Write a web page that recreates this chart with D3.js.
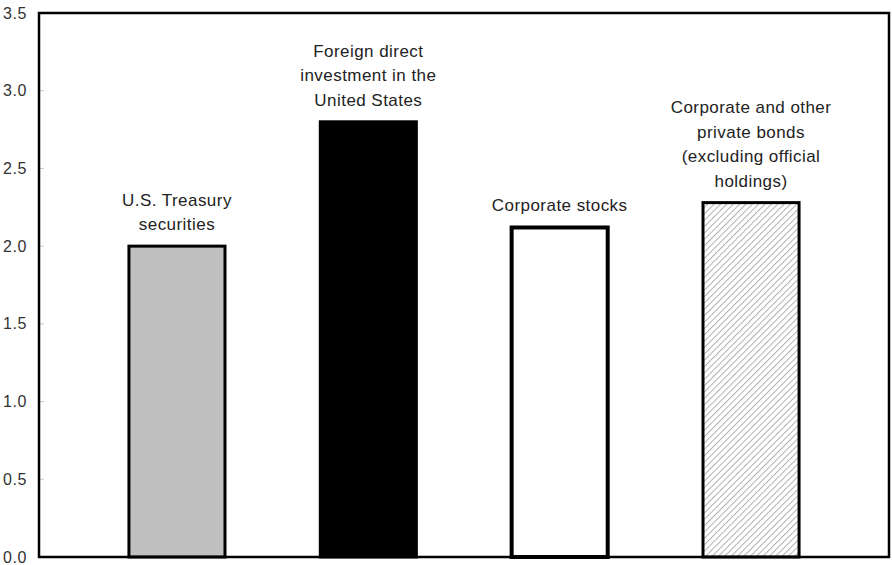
<!DOCTYPE html>
<html lang="en">
<meta charset="utf-8">
<style>
    html, body { margin: 0; padding: 0; background: #fff; }
    svg { display: block; }
    .lbl { font-family: "Liberation Sans", Arial, sans-serif; font-size: 17px; letter-spacing: 0.45px; fill: #222; }
    .tick text { font-family: "Liberation Sans", Arial, sans-serif; font-size: 16px; letter-spacing: 0.6px; fill: #333; }
</style>
<body>
<svg id="svg" width="892" height="565"></svg>
<script src="https://cdn.jsdelivr.net/npm/d3@7"></script>
<script>
    var categories = ["treasury", "fdi", "stocks", "bonds"];
    var labels = [
        ["U.S. Treasury", "securities"],
        ["Foreign direct", "investment in the", "United States"],
        ["Corporate stocks"],
        ["Corporate and other", "private bonds", "(excluding official", "holdings)"]
    ];
    var values = [2.0, 2.8, 2.12, 2.28];
    var yTicks = [0, 0.5, 1.0, 1.5, 2.0, 2.5, 3.0, 3.5];

    var svg = d3.select("svg"),
        margin = {top: 13, right: 3, bottom: 8, left: 39},
        width = 892 - margin.left - margin.right,
        height = 565 - margin.top - margin.bottom;

    // hatch for the last bar
    var defs = svg.append("defs");
    defs.append("pattern")
        .attr("id", "hatch")
        .attr("patternUnits", "userSpaceOnUse")
        .attr("width", 4.5).attr("height", 4.5)
        .attr("patternTransform", "rotate(45)")
      .call(p => {
          p.append("rect").attr("width", 4.5).attr("height", 4.5).attr("fill", "#fff");
          p.append("line").attr("x1", 0).attr("y1", 0).attr("x2", 0).attr("y2", 4.5)
              .attr("stroke", "#b0b0b0").attr("stroke-width", 2);
      });

    var fills = ["#c0c0c0", "#000", "#fff", "url(#hatch)"];

    var g = svg.append("g").attr("transform", "translate(" + margin.left + "," + margin.top + ")");

    var x = d3.scaleBand()
        .domain(categories)
        .range([0, width])
        .paddingInner(0.498)
        .paddingOuter(0.47);

    var y = d3.scaleLinear()
        .domain([0, 3.5])
        .range([height, 0]);

    // y axis labels + faint inner ticks
    g.append("g")
        .call(d3.axisLeft(y).tickValues(yTicks).tickFormat(d3.format(".1f")).tickSize(0).tickPadding(12))
        .call(g => g.select(".domain").remove());

    g.append("g")
        .selectAll("line").data(yTicks.slice(1, -1)).enter().append("line")
        .attr("x1", 1).attr("x2", 5)
        .attr("y1", d => y(d)).attr("y2", d => y(d))
        .attr("stroke", "#ccc").attr("stroke-width", 1);

    // bars
    g.append("g")
        .selectAll("rect").data(values).enter().append("rect")
        .attr("x", (d, i) => x(categories[i]))
        .attr("y", d => y(d))
        .attr("width", x.bandwidth())
        .attr("height", d => y(0) - y(d))
        .attr("fill", (d, i) => fills[i])
        .attr("stroke", "#000")
        .attr("stroke-width", (d, i) => i == 2 ? 4 : 3);

    // labels above bars
    var lineH = 24.5;
    labels.forEach(function(lines, i) {
        var cx = x(categories[i]) + x.bandwidth() / 2;
        var base = y(values[i]) - 16;
        lines.forEach(function(t, j) {
            g.append("text")
                .attr("class", "lbl")
                .attr("x", cx)
                .attr("y", base - (lines.length - 1 - j) * lineH)
                .attr("text-anchor", "middle")
                .text(t);
        });
    });

    // frame
    g.append("rect")
        .attr("x", 0).attr("y", 0)
        .attr("width", width).attr("height", height)
        .attr("fill", "none")
        .attr("stroke", "#000")
        .attr("stroke-width", 2.5);
</script>
</body>
</html>
